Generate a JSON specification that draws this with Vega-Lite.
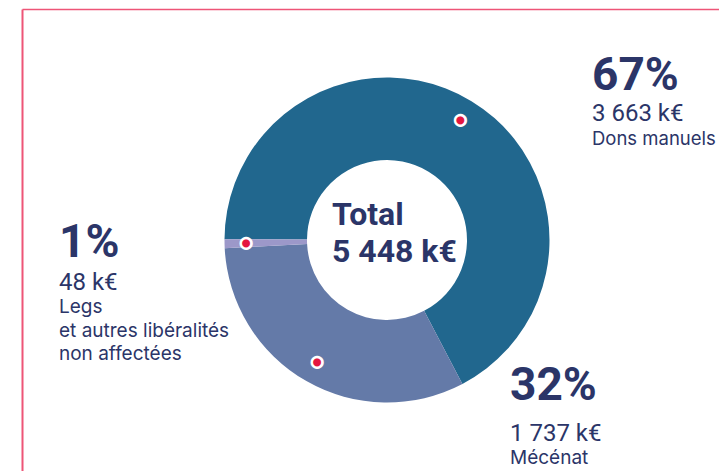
{
  "$schema": "https://vega.github.io/schema/vega-lite/v6.json",
  "width": 697,
  "height": 462,
  "autosize": {"type": "none"},
  "padding": {"left": 22, "top": 9, "right": 0, "bottom": 0},
  "background": "white",
  "config": {"view": {"stroke": null}},
  "data": {"values": [
    {"category": "Dons manuels", "value": 3663, "pct": "67%", "amount": "3 663 k€", "label": ["Dons manuels"]},
    {"category": "Mécénat", "value": 1737, "pct": "32%", "amount": "1 737 k€", "label": ["Mécénat"]},
    {"category": "Legs et autres libéralités non affectées", "value": 48, "pct": "1%", "amount": "48 k€", "label": ["Legs", "et autres libéralités", "non affectées"]}
  ]},
  "encoding": {
    "x": {"datum": "Ressources", "type": "nominal", "scale": {"type": "point", "align": 0.52367},
          "axis": {"orient": "top", "title": null, "labels": false, "ticks": false, "grid": false, "domainColor": "#ee5577", "domainWidth": 1.5}},
    "y": {"datum": "Ressources", "type": "nominal", "scale": {"type": "point"},
          "axis": {"orient": "left", "title": null, "labels": false, "ticks": false, "grid": false, "domainColor": "#ee5577", "domainWidth": 2}}
  },
  "layer": [
    {
      "mark": {"type": "arc", "innerRadius": 80, "outerRadius": 162.5},
      "encoding": {
        "theta": {"field": "value", "type": "quantitative", "stack": true, "scale": {"range": [4.7176, 11.0008]}},
        "order": {"field": "value", "sort": "descending"},
        "color": {"field": "category", "type": "nominal", "legend": null,
                  "scale": {"domain": ["Dons manuels", "Mécénat", "Legs et autres libéralités non affectées"], "range": ["#21678e", "#647aa8", "#9c98c9"]}}
      }
    },
    {
      "mark": {"type": "text", "radius": 141, "font": "DejaVu Sans", "fontSize": 14, "color": "#e4163f", "stroke": "white", "strokeWidth": 2.5, "align": "center", "baseline": "middle"},
      "encoding": {
        "theta": {"field": "value", "type": "quantitative", "stack": true, "scale": {"range": [4.7176, 11.0008]}},
        "order": {"field": "value", "sort": "descending"},
        "text": {"value": "●"}
      }
    },
    {
      "data": {"values": [{"lines": ["Total", "5 448 k€"]}]},
      "mark": {"type": "text", "align": "left", "baseline": "alphabetic", "dx": -55, "dy": -15, "lineHeight": 37, "font": "Roboto", "fontSize": 32, "fontWeight": 700, "color": "#2b3568"},
      "encoding": {"text": {"field": "lines"}}
    },
    {
      "transform": [{"filter": "datum.category === 'Dons manuels'"}],
      "mark": {"type": "text", "align": "left", "baseline": "alphabetic", "dx": 205, "dy": -150, "font": "Roboto", "fontSize": 46, "fontWeight": 700, "color": "#2b3568"},
      "encoding": {"text": {"field": "pct"}}
    },
    {
      "transform": [{"filter": "datum.category === 'Dons manuels'"}],
      "mark": {"type": "text", "align": "left", "baseline": "alphabetic", "dx": 205, "dy": -119, "font": "Roboto", "fontSize": 24, "fontWeight": 400, "color": "#2b3568"},
      "encoding": {"text": {"field": "amount"}}
    },
    {
      "transform": [{"filter": "datum.category === 'Dons manuels'"}],
      "mark": {"type": "text", "align": "left", "baseline": "alphabetic", "dx": 205, "dy": -95, "font": "Inter", "fontSize": 18.5, "color": "#2b3568"},
      "encoding": {"text": {"field": "label"}}
    },
    {
      "transform": [{"filter": "datum.category === 'Mécénat'"}],
      "mark": {"type": "text", "align": "left", "baseline": "alphabetic", "dx": 123, "dy": 160, "font": "Roboto", "fontSize": 46, "fontWeight": 700, "color": "#2b3568"},
      "encoding": {"text": {"field": "pct"}}
    },
    {
      "transform": [{"filter": "datum.category === 'Mécénat'"}],
      "mark": {"type": "text", "align": "left", "baseline": "alphabetic", "dx": 123, "dy": 201, "font": "Roboto", "fontSize": 24, "fontWeight": 400, "color": "#2b3568"},
      "encoding": {"text": {"field": "amount"}}
    },
    {
      "transform": [{"filter": "datum.category === 'Mécénat'"}],
      "mark": {"type": "text", "align": "left", "baseline": "alphabetic", "dx": 123, "dy": 224, "font": "Inter", "fontSize": 19, "color": "#2b3568"},
      "encoding": {"text": {"field": "label"}}
    },
    {
      "transform": [{"filter": "datum.value === 48"}],
      "mark": {"type": "text", "align": "left", "baseline": "alphabetic", "dx": -328, "dy": 17, "font": "Roboto", "fontSize": 46, "fontWeight": 700, "color": "#2b3568"},
      "encoding": {"text": {"field": "pct"}}
    },
    {
      "transform": [{"filter": "datum.value === 48"}],
      "mark": {"type": "text", "align": "left", "baseline": "alphabetic", "dx": -328, "dy": 50, "font": "Roboto", "fontSize": 24, "fontWeight": 400, "color": "#2b3568"},
      "encoding": {"text": {"field": "amount"}}
    },
    {
      "transform": [{"filter": "datum.value === 48"}],
      "mark": {"type": "text", "align": "left", "baseline": "alphabetic", "dx": -328, "dy": 73, "lineHeight": 23.5, "font": "Inter", "fontSize": 19, "color": "#2b3568"},
      "encoding": {"text": {"field": "label"}}
    }
  ]
}
